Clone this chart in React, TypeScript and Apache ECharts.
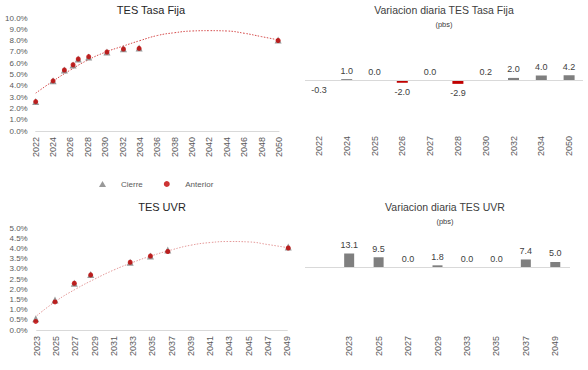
import React, { useEffect, useRef } from "react";
import * as echarts from "echarts";

// ---- TES Tasa Fija (curve, %) ----
const fijaYears = [2022.0, 2024.0, 2025.3, 2026.3, 2026.9, 2028.1, 2030.2, 2032.1, 2033.9, 2049.9];
const fijaCierre = [2.6, 4.45, 5.4, 5.84, 6.37, 6.55, 6.99, 7.28, 7.35, 8.05];
const fijaAnterior = [2.6, 4.44, 5.4, 5.86, 6.37, 6.58, 6.99, 7.26, 7.31, 8.01];
const fijaTrendYears = [2022, 2024, 2026, 2028, 2030, 2032, 2034, 2036, 2038, 2040, 2042, 2044, 2046, 2048, 2050];
const fijaTrend = [3.35, 4.42, 5.4, 6.28, 6.97, 7.5, 8.0, 8.45, 8.7, 8.85, 8.88, 8.85, 8.65, 8.35, 8.05];

// ---- Variacion diaria TES Tasa Fija (pbs) ----
const fijaBarCats = ["2022", "2024", "2025", "2026", "2027", "2028", "2030", "2032", "2034", "2050"];
const fijaBps = [-0.3, 1.0, 0.0, -2.0, 0.0, -2.9, 0.2, 2.0, 4.0, 4.2];

// ---- TES UVR (curve, %) ----
const uvrYears = [2022.9, 2024.9, 2026.9, 2028.6, 2032.7, 2034.8, 2036.6, 2049.1];
const uvrCierre = [0.55, 1.48, 2.3, 2.73, 3.33, 3.64, 3.93, 4.08];
const uvrAnterior = [0.42, 1.38, 2.3, 2.71, 3.33, 3.64, 3.86, 4.03];
const uvrTrendYears = [2023, 2025, 2027, 2029, 2031, 2033, 2035, 2037, 2039, 2041, 2043, 2045, 2047, 2049];
const uvrTrend = [0.7, 1.42, 2.0, 2.5, 2.95, 3.33, 3.66, 3.94, 4.17, 4.3, 4.35, 4.33, 4.2, 4.05];

// ---- Variacion diaria TES UVR (pbs) ----
const uvrBarCats = ["", "2023", "2025", "2027", "2029", "2033", "2035", "2037", "2049"];
const uvrBps: (number | null)[] = [null, 13.1, 9.5, 0.0, 1.8, 0.0, 0.0, 7.4, 5.0];

const FONT = "Liberation Sans";
const GRAY = "#7f7f7f";
const RED = "#c00000";
const AXIS = "#d9d9d9";
const LBL = "#595959";

const zip = (xs: number[], ys: number[]) => xs.map((x, i) => [x, ys[i]]);

const barData = (vals: (number | null)[]) =>
  vals.map((v) =>
    v == null
      ? null
      : {
          value: v,
          itemStyle: { color: v < 0 ? RED : GRAY },
          label: { position: v < 0 ? "bottom" : "top", distance: v < 0 ? 5 : 4 },
        }
  );

export default function App() {
  const ref = useRef<HTMLDivElement>(null);
  useEffect(() => {
    if (!ref.current) return;
    const chart = echarts.init(ref.current, null, { renderer: "svg" });

    const valueX = (gi: number, min: number, max: number) => ({
      type: "value",
      gridIndex: gi,
      min,
      max,
      interval: 2,
      axisLine: { show: true, onZero: true, lineStyle: { color: AXIS, width: 1 } },
      axisTick: { show: false },
      splitLine: { show: false },
      axisLabel: {
        rotate: 90,
        margin: 6,
        fontSize: 9,
        color: LBL,
        fontFamily: FONT,
        formatter: (v: number) => String(v),
      },
    });
    const pctY = (gi: number, max: number, interval: number, margin: number) => ({
      type: "value",
      gridIndex: gi,
      min: 0,
      max,
      interval,
      axisLine: { show: false },
      axisTick: { show: false },
      splitLine: { show: false },
      axisLabel: {
        margin,
        fontSize: 8,
        color: LBL,
        fontFamily: FONT,
        formatter: (v: number) => v.toFixed(1) + "%",
      },
    });
    const catX = (gi: number, data: string[]) => ({
      type: "category",
      gridIndex: gi,
      data,
      axisLine: { show: false, onZero: false },
      axisTick: { show: false },
      axisLabel: { rotate: 90, margin: 6, fontSize: 9, color: LBL, fontFamily: FONT, interval: 0 },
    });
    const hidY = (gi: number, min: number, max: number) => ({
      type: "value",
      gridIndex: gi,
      min,
      max,
      show: false,
      splitLine: { show: false },
    });

    const barSeries = (xi: number, vals: (number | null)[], bw: number) => ({
      type: "bar",
      xAxisIndex: xi,
      yAxisIndex: xi,
      data: barData(vals),
      barWidth: bw,
      label: {
        show: true,
        fontSize: 9,
        color: "#404040",
        fontFamily: FONT,
        formatter: (p: any) => (p.value == null ? "" : Number(p.value).toFixed(1)),
      },
      markLine: {
        silent: true,
        symbol: "none",
        label: { show: false },
        lineStyle: { color: AXIS, type: "solid", width: 1 },
        data: [{ yAxis: 0 }],
      },
    });

    const option: any = {
      animation: false,
      backgroundColor: "#ffffff",
      title: [
        {
          text: "TES Tasa Fija",
          left: 151,
          top: 4,
          padding: 0,
          textAlign: "center",
          textStyle: { fontSize: 11, fontWeight: "normal", color: "#262626", fontFamily: FONT },
        },
        {
          text: "Variacion diaria TES Tasa Fija",
          subtext: "(pbs)",
          left: 444,
          top: 4,
          padding: 0,
          itemGap: 5,
          textAlign: "center",
          textStyle: { fontSize: 10.5, fontWeight: "normal", color: "#404040", fontFamily: FONT },
          subtextStyle: { fontSize: 7.5, color: "#404040", fontFamily: FONT },
        },
        {
          text: "TES UVR",
          left: 162,
          top: 201,
          padding: 0,
          textAlign: "center",
          textStyle: { fontSize: 11, fontWeight: "normal", color: "#262626", fontFamily: FONT },
        },
        {
          text: "Variacion diaria TES UVR",
          subtext: "(pbs)",
          left: 445,
          top: 201,
          padding: 0,
          itemGap: 5,
          textAlign: "center",
          textStyle: { fontSize: 10.5, fontWeight: "normal", color: "#404040", fontFamily: FONT },
          subtextStyle: { fontSize: 7.5, color: "#404040", fontFamily: FONT },
        },
      ],
      legend: {
        left: 99,
        top: 180,
        padding: 0,
        itemWidth: 7,
        itemHeight: 6,
        itemGap: 21,
        textStyle: { fontSize: 8, color: LBL, fontFamily: FONT, padding: [0, 0, 0, 10] },
        data: [
          { name: "Cierre", icon: "triangle" },
          { name: "Anterior", icon: "circle" },
        ],
      },
      grid: [
        { left: 35.7, top: 18, width: 243.3, height: 113 },
        { left: 305, top: 44, width: 278, height: 86 },
        { left: 36.7, top: 228.3, width: 250.6, height: 101.7 },
        { left: 305, top: 240, width: 265, height: 90 },
      ],
      xAxis: [valueX(0, 2022, 2050), catX(1, fijaBarCats), valueX(2, 2023, 2049), catX(3, uvrBarCats)],
      yAxis: [pctY(0, 10, 1, 8), hidY(1, -41, 30), pctY(2, 5, 0.5, 9), hidY(3, -60, 26)],
      series: [
        {
          name: "Tendencia Fija",
          type: "line",
          xAxisIndex: 0,
          yAxisIndex: 0,
          data: zip(fijaTrendYears, fijaTrend),
          smooth: true,
          showSymbol: false,
          lineStyle: { color: "#d44a4a", width: 1, type: [1.5, 1.5] },
          z: 1,
        },
        {
          name: "Cierre",
          type: "scatter",
          xAxisIndex: 0,
          yAxisIndex: 0,
          data: zip(fijaYears, fijaCierre),
          symbol: "triangle",
          symbolSize: 7,
          itemStyle: { color: GRAY },
          clip: false,
          z: 2,
        },
        {
          name: "Anterior",
          type: "scatter",
          xAxisIndex: 0,
          yAxisIndex: 0,
          data: zip(fijaYears, fijaAnterior),
          symbol: "circle",
          symbolSize: 5,
          itemStyle: { color: RED },
          clip: false,
          z: 3,
        },
        barSeries(1, fijaBps, 11),
        {
          name: "Tendencia UVR",
          type: "line",
          xAxisIndex: 2,
          yAxisIndex: 2,
          data: zip(uvrTrendYears, uvrTrend),
          smooth: true,
          showSymbol: false,
          lineStyle: { color: "#e49a9a", width: 1, type: [1.5, 1.5] },
          z: 1,
        },
        {
          name: "Cierre",
          type: "scatter",
          xAxisIndex: 2,
          yAxisIndex: 2,
          data: zip(uvrYears, uvrCierre),
          symbol: "triangle",
          symbolSize: 7,
          itemStyle: { color: GRAY },
          clip: false,
          z: 2,
        },
        {
          name: "Anterior",
          type: "scatter",
          xAxisIndex: 2,
          yAxisIndex: 2,
          data: zip(uvrYears, uvrAnterior),
          symbol: "circle",
          symbolSize: 5,
          itemStyle: { color: RED },
          clip: false,
          z: 3,
        },
        barSeries(3, uvrBps, 10),
      ],
    };
    chart.setOption(option);
    return () => chart.dispose();
  }, []);
  return (
    <div
      ref={ref}
      style={{ position: "fixed", left: 0, top: 0, width: 588, height: 370, background: "#fff" }}
    />
  );
}
